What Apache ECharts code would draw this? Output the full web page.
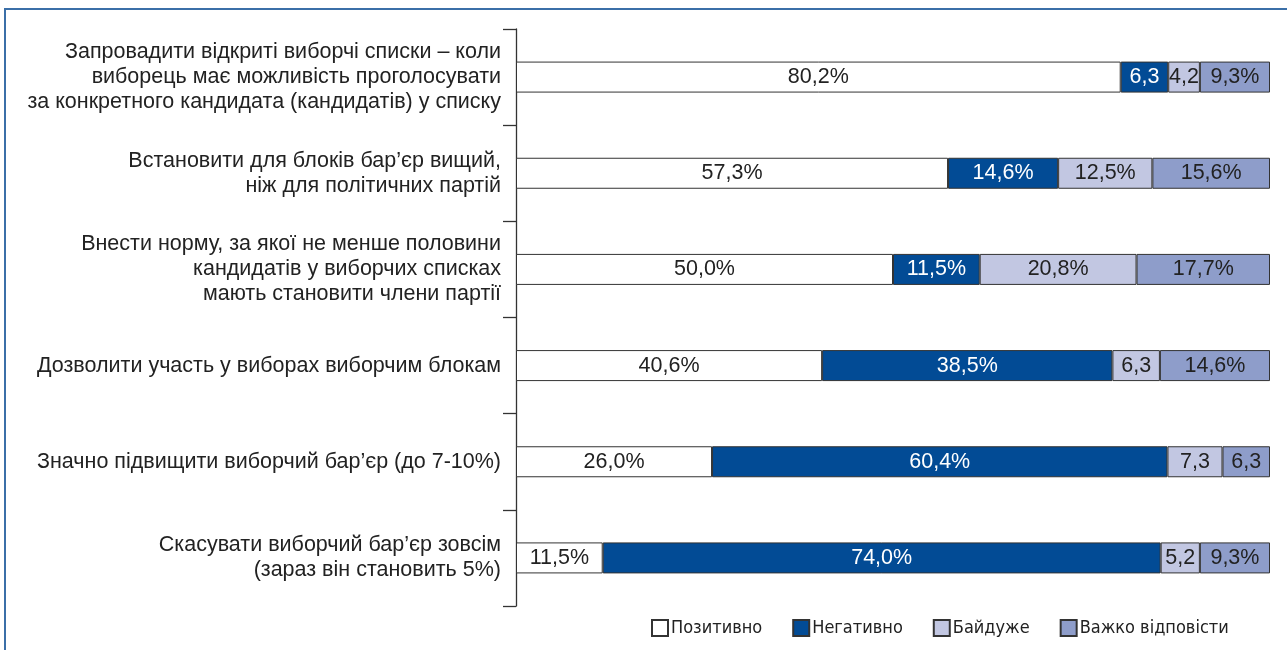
<!DOCTYPE html>
<html>
<head>
<meta charset="utf-8">
<script src="https://cdn.jsdelivr.net/npm/echarts@6/dist/echarts.min.js"></script>
<style>
  html, body { margin: 0; padding: 0; background: #fff; }
  #frame {
    position: absolute; left: 4px; top: 8px; right: 0; bottom: 0;
    border-left: 2px solid #3b6fa8; border-top: 2px solid #3b6fa8;
  }
  #chart { position: absolute; left: 0; top: 0; width: 1287px; height: 650px; }
</style>
</head>
<body>
<div id="frame"></div>
<div id="chart"></div>
<script>
const categories = [
  "Запровадити відкриті виборчі списки – коли\nвиборець має можливість проголосувати\nза конкретного кандидата (кандидатів) у списку",
  "Встановити для блоків бар’єр вищий,\nніж для політичних партій",
  "Внести норму, за якої не менше половини\nкандидатів у виборчих списках\nмають становити члени партії",
  "Дозволити участь у виборах виборчим блокам",
  "Значно підвищити виборчий бар’єр (до 7-10%)",
  "Скасувати виборчий бар’єр зовсім\n(зараз він становить 5%)"
];
const seriesNames = ["Позитивно", "Негативно", "Байдуже", "Важко відповісти"];
const positive = [80.2, 57.3, 50.0, 40.6, 26.0, 11.5];
const negative = [6.3, 14.6, 11.5, 38.5, 60.4, 74.0];
const indifferent = [4.2, 12.5, 20.8, 6.3, 7.3, 5.2];
const hardToSay = [9.3, 15.6, 17.7, 14.6, 6.3, 9.3];

const colors = ["#ffffff", "#024b95", "#c2c7e2", "#8e9dca"];
const labelColors = ["#222", "#fff", "#222", "#222"];

// small segments are labelled without the percent sign
function fmt(p) {
  const s = p.value.toFixed(1).replace(".", ",");
  return p.value >= 8 ? s + "%" : s;
}

const chart = echarts.init(document.getElementById("chart"));
const values = [positive, negative, indifferent, hardToSay];

const option = {
  animation: false,
  grid: { left: 516, right: 17, top: 29, bottom: 44, containLabel: false },
  xAxis: { type: "value", min: 0, max: 100, show: false },
  yAxis: {
    type: "category",
    inverse: true,
    data: categories,
    axisLine: { show: true, lineStyle: { color: "#333", width: 1.3 } },
    axisTick: { show: true, length: 13, lineStyle: { color: "#333", width: 1.3 } },
    axisLabel: {
      margin: 15,
      align: "right",
      fontFamily: "Liberation Sans, Arial, sans-serif",
      fontSize: 21.5,
      lineHeight: 25,
      color: "#222"
    }
  },
  legend: {
    left: 651,
    top: 619,
    padding: 0,
    itemWidth: 16,
    itemHeight: 16,
    itemGap: 30,
    icon: "rect",
    textStyle: {
      fontFamily: "Liberation Sans Narrow, DejaVu Sans Condensed, sans-serif",
      fontSize: 18,
      color: "#222",
      padding: [0, 0, 0, -2]
    },
    data: seriesNames
  },
  series: seriesNames.map((name, i) => ({
    name: name,
    type: "bar",
    stack: "total",
    barWidth: 31,
    data: values[i],
    itemStyle: { color: colors[i], borderColor: "#333", borderWidth: 1 },
    label: {
      show: true,
      position: "inside",
      formatter: fmt,
      fontFamily: "Liberation Sans, Arial, sans-serif",
      fontSize: 21.5,
      color: labelColors[i]
    }
  }))
};
chart.setOption(option);
window.addEventListener("resize", () => chart.resize());
</script>
</body>
</html>
